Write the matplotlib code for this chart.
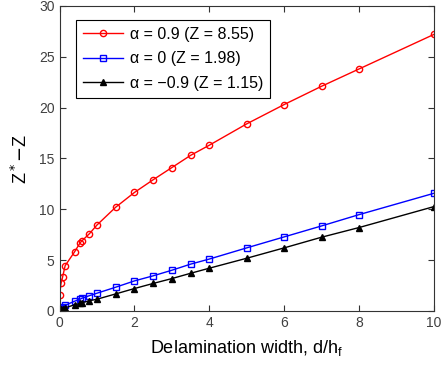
import matplotlib
matplotlib.use("Agg")
import matplotlib.pyplot as plt

plt.rcParams["font.family"] = ["Liberation Sans", "DejaVu Sans"]

# delamination width d/h_f
d = [0, 0.04, 0.08, 0.15, 0.4, 0.55, 0.6, 0.8, 1, 1.5, 2, 2.5, 3, 3.5, 4, 5, 6, 7, 8, 10]

z_pos = [1.55, 2.7, 3.3, 4.45, 5.8, 6.7, 6.9, 7.6, 8.45, 10.2, 11.65, 12.9, 14.1, 15.3,
         16.3, 18.4, 20.3, 22.1, 23.8, 27.2]
z_zero = [0.15, 0.3, 0.4, 0.55, 0.95, 1.15, 1.25, 1.5, 1.74, 2.33, 2.95, 3.45, 4.0, 4.6,
          5.1, 6.2, 7.28, 8.36, 9.47, 11.57]
z_neg = [0.05, 0.15, 0.2, 0.3, 0.6, 0.75, 0.8, 1.0, 1.15, 1.67, 2.2, 2.7, 3.18, 3.7,
         4.2, 5.18, 6.2, 7.25, 8.2, 10.26]

labels = ["α = 0.9 (Z = 8.55)",
          "α = 0 (Z = 1.98)",
          "α = \u22120.9 (Z = 1.15)"]

fig = plt.figure(figsize=(4.41, 3.71), dpi=100)
ax = fig.add_axes([0.135, 0.162, 0.849, 0.822])

ax.plot(d, z_pos, color="red", marker="o", markersize=4.5, markerfacecolor="none",
        linewidth=1, label=labels[0])
ax.plot(d, z_zero, color="blue", marker="s", markersize=4.5, markerfacecolor="none",
        linewidth=1, label=labels[1])
ax.plot(d, z_neg, color="black", marker="^", markersize=4, linewidth=1, label=labels[2])

ax.set_xlim(0, 10)
ax.set_ylim(0, 30)
ax.set_xticks([0, 2, 4, 6, 8, 10])
ax.set_yticks([0, 5, 10, 15, 20, 25, 30])
ax.tick_params(direction="in", top=True, right=True, labelsize=10, colors="#333333",
               length=4)
for lab in ax.get_xticklabels() + ax.get_yticklabels():
    lab.set_color("#404040")
for s in ax.spines.values():
    s.set_color("#333333")
    s.set_linewidth(0.8)

ax.set_xlabel(r"Delamination width, d/h$_\mathregular{f}$", fontsize=13, labelpad=6)
ax.set_ylabel(r"Z$^*$$-$Z", fontsize=13, labelpad=6)

leg = ax.legend(loc="upper left", bbox_to_anchor=(0.044, 0.955), borderaxespad=0,
                fontsize=11.5, fancybox=False, edgecolor="black", framealpha=1,
                handlelength=2.5, borderpad=0.45, labelspacing=0.6, handletextpad=0.4)
leg.get_frame().set_linewidth(0.8)

fig.savefig("out.png", dpi=100)
